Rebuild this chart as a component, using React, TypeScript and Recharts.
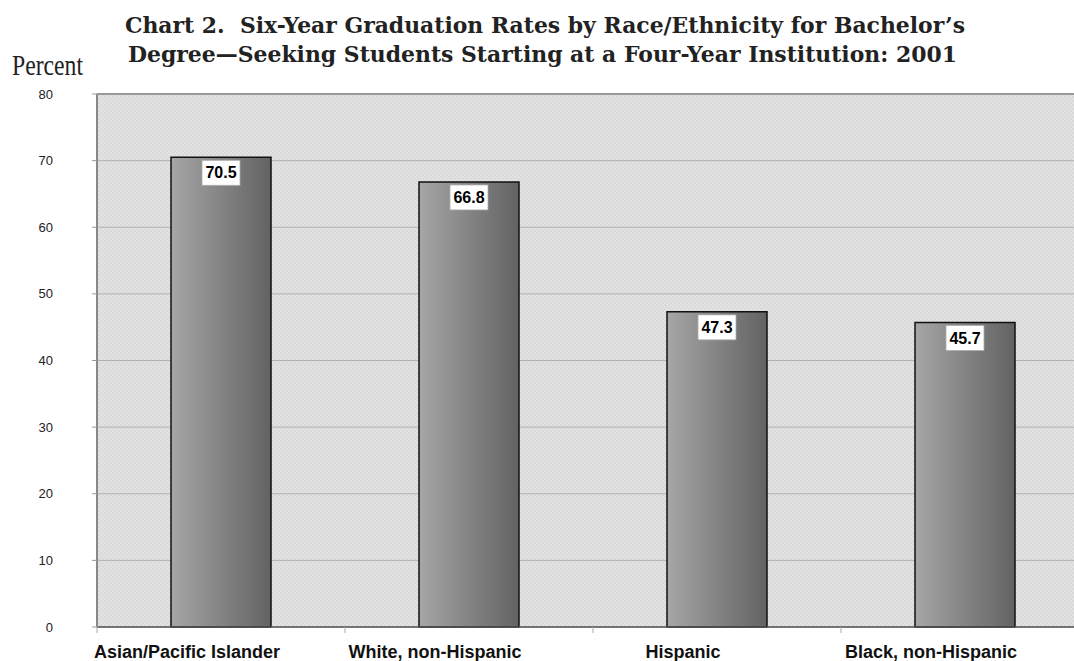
import React from 'react';
import { BarChart, Bar, XAxis, YAxis, CartesianGrid, LabelList, ReferenceLine } from 'recharts';

const categories = ['Asian/Pacific Islander', 'White, non-Hispanic', 'Hispanic', 'Black, non-Hispanic'];
const rates = [70.5, 66.8, 47.3, 45.7];
const yTicks = [0, 10, 20, 30, 40, 50, 60, 70, 80];
const titleLines = [
  'Chart 2.\u00a0\u00a0Six-Year Graduation Rates by Race/Ethnicity for Bachelor\u2019s',
  'Degree\u2014Seeking Students Starting at a Four-Year Institution: 2001',
];
const yLabel = 'Percent';

const data = categories.map((c, i) => ({ name: c, value: rates[i] }));

const W = 1100;
const H = 661;
const XH = 30;
const YW = 60;
const M = { top: 94, right: 11, bottom: 4, left: 37 };
const plotLeft = M.left + YW;
const plotRight = W - M.right;
const plotBottom = H - M.bottom - XH;
const band = (plotRight - plotLeft) / categories.length;

const sans = '"Liberation Sans", Arial, Helvetica, sans-serif';

const XTick = (props: any) => {
  const { x, payload } = props;
  return (
    <g>
      <line x1={x - band / 2} x2={x - band / 2} y1={plotBottom} y2={plotBottom + 6} stroke="#aaa" strokeWidth={1} />
      <text x={x - 34} y={plotBottom + 31} textAnchor="middle" fontFamily={sans} fontWeight="bold" fontSize={18} fill="#111">
        {payload.value}
      </text>
    </g>
  );
};

const ValueLabel = (props: any) => {
  const { x, y, width, value } = props;
  const cx = x + width / 2;
  return (
    <g>
      <rect x={cx - 19} y={y + 3} width={38} height={25} fill="#fff" stroke="#aaa" strokeWidth={0.8} />
      <text x={cx} y={y + 21} textAnchor="middle" fontFamily={sans} fontWeight="bold" fontSize={16} fill="#000">
        {value}
      </text>
    </g>
  );
};

export default function App() {
  return (
    <div style={{ position: 'fixed', left: 0, top: 0, width: 1074, height: 661, overflow: 'hidden', background: '#fff' }}>
      <div style={{ position: 'absolute', left: 0, top: 0 }}>
        <BarChart width={W} height={H} data={data} margin={M}>
          <defs>
            <pattern id="bgPat2" width="4" height="4" patternUnits="userSpaceOnUse">
              <rect width="4" height="4" fill="#e2e2e2" />
              <rect width="2" height="2" fill="#dadada" />
              <rect x="2" y="2" width="2" height="2" fill="#dadada" />
            </pattern>
            <linearGradient id="barGrad2" x1="0" y1="0" x2="1" y2="0">
              <stop offset="0%" stopColor="#a6a6a6" />
              <stop offset="100%" stopColor="#626262" />
            </linearGradient>
          </defs>
          <CartesianGrid vertical={false} stroke="#b2b2b2" fill="url(#bgPat2)" fillOpacity={1} />
          <XAxis
            dataKey="name"
            height={XH}
            interval={0}
            tickLine={false}
            axisLine={{ stroke: '#555', strokeWidth: 1.5 }}
            tick={<XTick />}
          />
          <YAxis
            width={YW}
            domain={[0, 80]}
            ticks={yTicks}
            interval={0}
            tickSize={5}
            tickMargin={39}
            axisLine={{ stroke: '#888', strokeWidth: 2 }}
            tickLine={{ stroke: '#999' }}
            tick={{ fontSize: 13, fill: '#222', fontFamily: sans }}
          />
          <ReferenceLine y={80} stroke="#999" strokeWidth={2} />
          <Bar dataKey="value" barSize={100} fill="url(#barGrad2)" stroke="#111" strokeWidth={1.5} isAnimationActive={false}>
            <LabelList dataKey="value" content={<ValueLabel />} />
          </Bar>
        </BarChart>
      </div>
      <svg width={1074} height={90} style={{ position: 'absolute', left: 0, top: 0, pointerEvents: 'none' }}>
        <text x={545} y={33} textAnchor="middle" textLength={840} lengthAdjust="spacingAndGlyphs"
          fontFamily='"DejaVu Serif", serif' fontWeight="bold" fontSize={23} fill="#222">{titleLines[0]}</text>
        <text x={542.5} y={62} textAnchor="middle" textLength={829} lengthAdjust="spacingAndGlyphs"
          fontFamily='"DejaVu Serif", serif' fontWeight="bold" fontSize={23} fill="#222">{titleLines[1]}</text>
        <text x={12} y={75} textLength={71} lengthAdjust="spacingAndGlyphs"
          fontFamily='"Liberation Serif", serif' fontSize={29} fill="#222">{yLabel}</text>
      </svg>
    </div>
  );
}
